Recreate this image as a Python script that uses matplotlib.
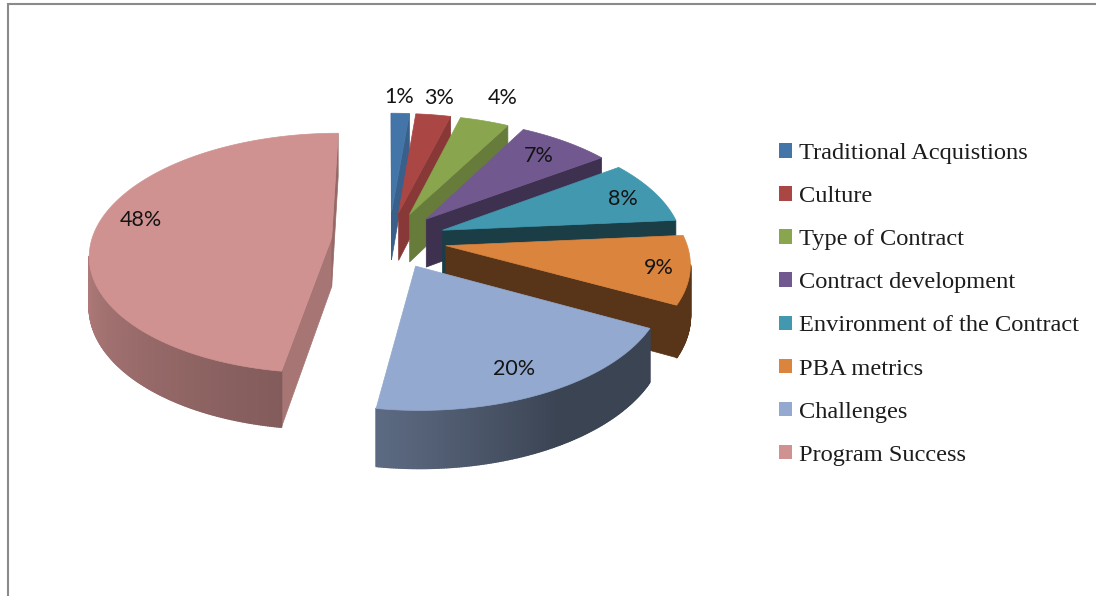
import numpy as np
import matplotlib
matplotlib.use("Agg")
import matplotlib.pyplot as plt
from matplotlib.patches import Patch

categories = [
    "Traditional Acquistions", "Culture", "Type of Contract", "Contract development",
    "Environment of the Contract", "PBA metrics", "Challenges", "Program Success",
]
shares = [1.4, 2.7, 3.8, 7.2, 8.49, 9.1, 19.7, 47.5]

colors = ["#4475a8", "#aa4644", "#89a54e", "#71588f", "#4198af", "#db843d", "#93a9cf", "#d09291"]
start_wall_shade = [0.8, 0.8, 0.75, 0.55, 0.4, 0.4, 0.4, 0.8]
end_wall_shade = [0.82, 0.8, 0.75, 0.55, 0.4, 0.4, 0.4, 0.72]
label_r = [1.19, 1.2, 1.28, 0.8, 0.84, 0.875, 0.82, 0.83]
label_shift = [-0.5, 0, 0, 0, 1, 0.5, 1.5, 6]

CENTER_X, CENTER_Y = 389, 240
RX, RY = 240, 118.5
PERSPECTIVE = 0.128
EXPLODE = 0.24
DEPTH = 49


def project(u, v, drop=0.0):
    f = 1 / (1 + PERSPECTIVE * v)
    return CENTER_X + RX * u * f, CENTER_Y - RY * v * f + drop * DEPTH * f


def slice_point(theta, r, mid, drop=0.0):
    u = EXPLODE * np.sin(mid) + r * np.sin(theta)
    v = EXPLODE * np.cos(mid) + r * np.cos(theta)
    return project(u, v, drop)


def shade(color, k):
    return tuple(c * k for c in matplotlib.colors.to_rgb(color))


def signed_area(pts):
    xs, ys = np.array(pts).T
    return np.sum(xs * np.roll(ys, -1) - np.roll(xs, -1) * ys) / 2


def rim_shade(theta):
    deg = np.degrees(theta)
    return np.interp(deg, [0, 150, 187, 270, 360], [0.4, 0.4, 0.62, 0.86, 0.86])


fig = plt.figure(figsize=(10.96, 5.96), dpi=100)
ax = fig.add_axes([0, 0, 1, 1])
ax.set_xlim(0, 1096)
ax.set_ylim(596, 0)
ax.axis("off")

ax.plot([8, 8, 1096], [596, 4, 4], color="#8a8a8a", lw=1.5, solid_joinstyle="miter")

total = sum(shares)
edges = np.cumsum([0] + shares) / total * 2 * np.pi

# back slices first, so each one paints over the wall of the one before
for i, color in enumerate(colors):
    t0, t1 = edges[i], edges[i + 1]
    mid = (t0 + t1) / 2
    arc = np.linspace(t0, t1, max(int(np.degrees(t1 - t0)) * 2, 6))

    apex_top = slice_point(0, 0, mid)
    apex_bot = slice_point(0, 0, mid, 1)

    start_wall = [apex_top, slice_point(t0, 1, mid), slice_point(t0, 1, mid, 1), apex_bot]
    end_wall = [apex_top, slice_point(t1, 1, mid), slice_point(t1, 1, mid, 1), apex_bot]
    if signed_area(start_wall) < 0:
        ax.fill(*zip(*start_wall), color=shade(color, start_wall_shade[i]), lw=0.5)
    if signed_area(end_wall) > 0:
        ax.fill(*zip(*end_wall), color=shade(color, end_wall_shade[i]), lw=0.5)

    for a, b in zip(arc[:-1], arc[1:]):
        strip = [slice_point(a, 1, mid), slice_point(b, 1, mid),
                 slice_point(b, 1, mid, 1), slice_point(a, 1, mid, 1)]
        if signed_area(strip) < 0:
            ax.fill(*zip(*strip), color=shade(color, rim_shade((a + b) / 2)), lw=1.2,
                    joinstyle="round")

    top = [apex_top] + [slice_point(t, 1, mid) for t in arc]
    ax.fill(*zip(*top), color=color, lw=0.5)

for i, share in enumerate(shares):
    mid = (edges[i] + edges[i + 1]) / 2
    x, y = slice_point(mid + np.radians(label_shift[i]), label_r[i], mid)
    ax.text(x, y, f"{share:.0f}%", ha="center", va="center", fontsize=15.5,
            family="Lato", color="#141414")

handles = [Patch(facecolor=c, edgecolor="none", label=n) for c, n in zip(colors, categories)]
FONT = 17.6
ax.legend(
    handles=handles, loc="upper left", bbox_to_anchor=(779, 143), bbox_transform=ax.transData,
    frameon=False, borderpad=0, borderaxespad=0,
    prop={"family": "Liberation Serif", "size": FONT},
    handlelength=13 * 0.72 / FONT, handleheight=13 * 0.72 / FONT, handletextpad=0.3,
    labelspacing=0.905, labelcolor="#1c1c1c",
)

fig.savefig("out.png", dpi=100)
